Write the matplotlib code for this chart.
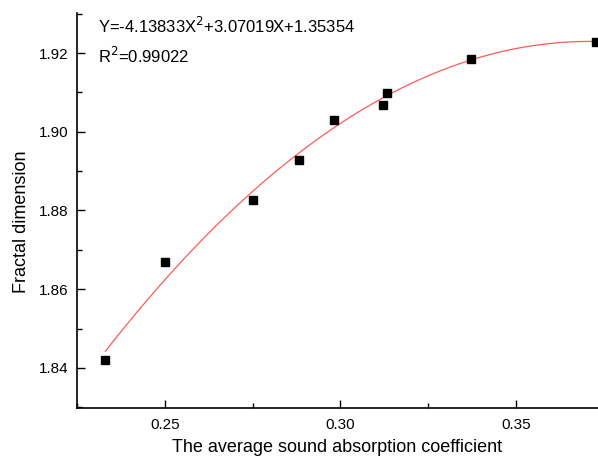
import numpy as np
import matplotlib.pyplot as plt
from matplotlib.ticker import MultipleLocator

plt.rcParams['font.family'] = ['Liberation Sans', 'DejaVu Sans']

# measured points
absorption = [0.2330, 0.2500, 0.2750, 0.2881, 0.2981, 0.3122, 0.3132, 0.3372, 0.3728]
fractal_dim = [1.8419, 1.8669, 1.8827, 1.8929, 1.9030, 1.9069, 1.9098, 1.9184, 1.9229]

# quadratic fit coefficients (from the equation on the chart)
fit_a, fit_b, fit_c = -4.13833, 3.07019, 1.35354
r_squared = 0.99022

fig = plt.figure(figsize=(5.98, 4.62), dpi=100)
ax = fig.add_axes([77 / 598, 54 / 462, 1 - 77 / 598, (408 - 13) / 462])

xfit = np.linspace(min(absorption), max(absorption), 200)
yfit = fit_a * xfit ** 2 + fit_b * xfit + fit_c
ax.plot(xfit, yfit, color='#ff5a5a', lw=0.9, zorder=2)
ax.plot(absorption, fractal_dim, 's', color='black', ms=5.5, zorder=3, clip_on=False)

ax.set_xlim(0.2249, 0.3734)
ax.set_ylim(1.8298, 1.9302)

ax.xaxis.set_major_locator(MultipleLocator(0.05))
ax.xaxis.set_minor_locator(MultipleLocator(0.025))
ax.yaxis.set_major_locator(MultipleLocator(0.02))
ax.yaxis.set_minor_locator(MultipleLocator(0.01))
ax.xaxis.set_major_formatter(plt.FormatStrFormatter('%.2f'))
ax.yaxis.set_major_formatter(plt.FormatStrFormatter('%.2f'))

for side in ['top', 'right']:
    ax.spines[side].set_visible(False)
for side in ['left', 'bottom']:
    ax.spines[side].set_linewidth(1.2)

# ticks point into the plot
ax.tick_params(which='major', direction='in', length=6, width=1, labelsize=11)
ax.tick_params(which='minor', direction='in', length=3.5, width=1)
ax.tick_params(axis='x', which='major', pad=7)
ax.tick_params(axis='y', which='major', pad=6)

ax.set_xlabel('The average sound absorption coefficient', fontsize=13, labelpad=5)
ax.set_ylabel('Fractal dimension', fontsize=13)
ax.yaxis.set_label_coords(-0.091, 0.471)

ax.text(98 / 598, 1 - 33 / 462,
        'Y=%.5fX$^2$+%.5fX+%.5f' % (fit_a, fit_b, fit_c),
        transform=fig.transFigure, fontsize=12, va='baseline')
ax.text(98 / 598, 1 - 63 / 462, 'R$^2$=%.5f' % r_squared,
        transform=fig.transFigure, fontsize=12, va='baseline')

fig.savefig('out.png', dpi=100)
